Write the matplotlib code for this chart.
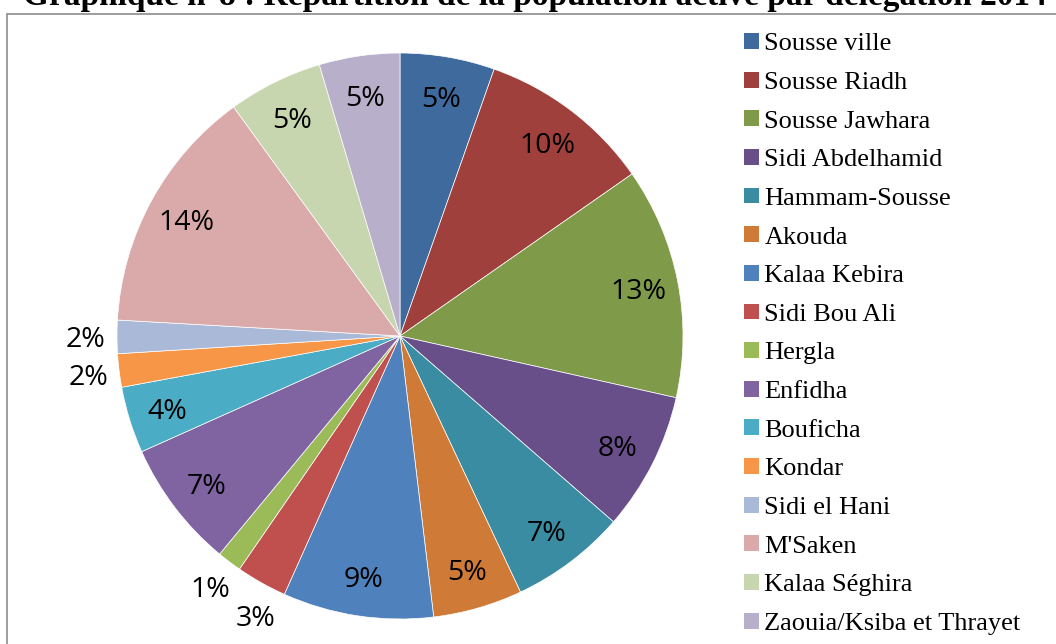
import matplotlib
matplotlib.use("Agg")
import matplotlib.pyplot as plt
from matplotlib.patches import Rectangle, Patch
import numpy as np

delegations = ["Sousse ville", "Sousse Riadh", "Sousse Jawhara", "Sidi Abdelhamid",
               "Hammam-Sousse", "Akouda", "Kalaa Kebira", "Sidi Bou Ali", "Hergla",
               "Enfidha", "Bouficha", "Kondar", "Sidi el Hani", "M'Saken",
               "Kalaa Séghira", "Zaouia/Ksiba et Thrayet"]
shares = [5.4, 9.9, 13.2, 7.9, 6.6, 5.1, 8.6, 2.9, 1.4, 7.3, 3.8, 1.9, 1.9, 14.1, 5.4, 4.6]
colors = ["#3F6A9E", "#A0403D", "#7F9A48", "#694F8A", "#3A8CA2", "#CF7B37",
          "#4F81BD", "#C0504D", "#9BBB59", "#8064A2", "#4BACC6", "#F79646",
          "#AAB9D7", "#D9AAA9", "#C7D6AE", "#B8AFCB"]
title = "Graphique n°8 : Répartition de la population active par délégation 2014"

W, H = 1056, 644
fig = plt.figure(figsize=(W / 100, H / 100), dpi=100)

# grey chart frame, running off the right and bottom edges
fig.patches.append(Rectangle((7 / W, -0.1), 1.2, (H - 14) / H + 0.1,
                             transform=fig.transFigure, fill=False,
                             edgecolor="#8C8C8C", linewidth=1.2))

fig.text(535 / W, 1 - 5 / H, title, ha="center", va="baseline",
         family="Liberation Serif", fontweight="bold", fontsize=24)

cx, cy, r = 400, 336, 283
ax = fig.add_axes([(cx - r) / W, (H - cy - r) / H, 2 * r / W, 2 * r / H])
wedges, _ = ax.pie(shares, colors=colors, startangle=90, counterclock=False,
                   radius=1, wedgeprops=dict(edgecolor="white", linewidth=0.5))
ax.set_xlim(-1, 1)
ax.set_ylim(-1, 1)
ax.set_aspect("equal")
ax.axis("off")

# percentage labels: inside for the wide slices, just outside for thin ones
for i, (w, v) in enumerate(zip(wedges, shares)):
    ang = (w.theta1 + w.theta2) / 2
    d = 0.86 if v >= 3.5 else 1.11
    if delegations[i] == "Sidi Bou Ali":
        ang += 2      # push the 3% a bit away from the 1% above it
    mid = np.deg2rad(ang)
    ax.text(d * np.cos(mid), d * np.sin(mid), f"{round(v)}%",
            ha="center", va="center_baseline", fontsize=20.5,
            family="Open Sans", color="black")

handles = [Patch(facecolor=c, edgecolor="none") for c in colors]
fig.legend(handles, delegations, loc="upper left",
           bbox_to_anchor=(744 / W, 1 - 33 / H), bbox_transform=fig.transFigure,
           frameon=False, borderpad=0, borderaxespad=0,
           prop=dict(family="Liberation Serif", size=19),
           handlelength=0.55, handleheight=0.55, handletextpad=0.22,
           labelspacing=0.62)

fig.savefig("out.png", dpi=100)
